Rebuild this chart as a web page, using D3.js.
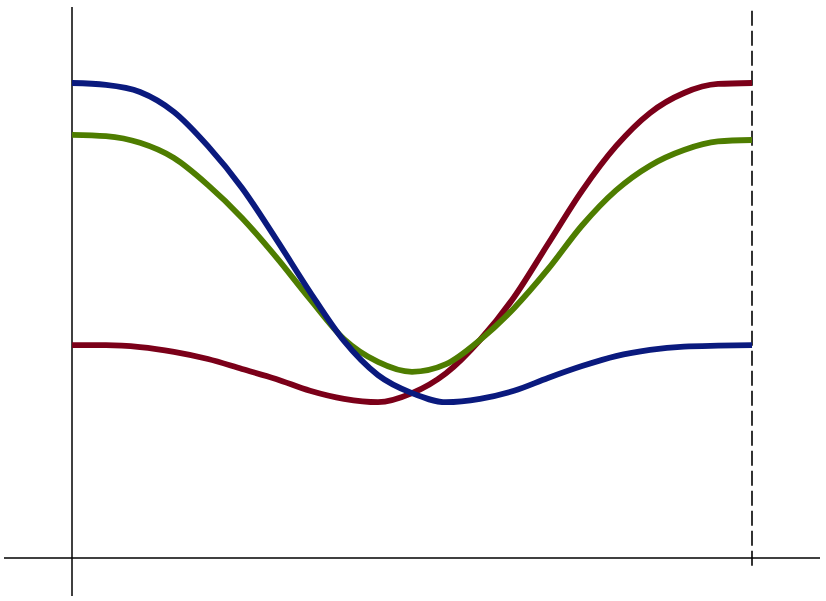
<html>
<head>
  <meta charset="utf-8" />
  <script src="https://cdnjs.cloudflare.com/ajax/libs/d3/7.8.5/d3.min.js"></script>
  <style>
    body { margin: 0; background: #fff; }
    .curve { fill: none; stroke-width: 5.8; stroke-linejoin: round; stroke-linecap: butt; }
  </style>
</head>
<body>
  <svg></svg>
  <script>
    // sample positions along the x axis
    var steps = d3.range(0, 21)

    var blueValues = [1.000, 0.996, 0.981, 0.939, 0.867, 0.779, 0.672, 0.560, 0.457, 0.385, 0.347,
                      0.328, 0.335, 0.352, 0.379, 0.404, 0.425, 0.438, 0.445, 0.447, 0.448]
    var greenValues = [0.891, 0.888, 0.874, 0.842, 0.785, 0.716, 0.634, 0.545, 0.461, 0.413, 0.392,
                       0.408, 0.459, 0.526, 0.608, 0.700, 0.774, 0.826, 0.859, 0.877, 0.880]
    var redValues = [0.448, 0.448, 0.444, 0.434, 0.419, 0.398, 0.377, 0.352, 0.335, 0.328, 0.347,
                     0.389, 0.459, 0.549, 0.661, 0.773, 0.867, 0.937, 0.979, 0.998, 1.000]

    // axis extents and marker position, in data units
    var xAxisExtent = [-2, 22]
    var yAxisExtent = [-0.08, 1.16]
    var markerX = 20
    var markerExtent = [-0.017, 1.152]

    var svg = d3.select("svg").attr("width", 826).attr("height", 601)

    var x = d3.scaleLinear().domain([0, 20]).range([72, 752])
    var y = d3.scaleLinear().domain([0, 1]).range([558, 83])

    // axes
    svg.append("line")
      .attr("x1", x(xAxisExtent[0])).attr("x2", x(xAxisExtent[1]))
      .attr("y1", y(0)).attr("y2", y(0))
      .style("stroke", "#000").style("stroke-width", 1.5)
    svg.append("line")
      .attr("x1", x(0)).attr("x2", x(0))
      .attr("y1", y(yAxisExtent[0])).attr("y2", y(yAxisExtent[1]))
      .style("stroke", "#000").style("stroke-width", 1.5)

    // dashed marker at the right end
    svg.append("line")
      .attr("x1", x(markerX)).attr("x2", x(markerX))
      .attr("y1", y(markerExtent[1])).attr("y2", y(markerExtent[0]))
      .style("stroke", "#000").style("stroke-width", 1.6)
      .style("stroke-dasharray", "15,5")

    var line = d3.line()
      .x(d => x(d[0]))
      .y(d => y(d[1]))
      .curve(d3.curveMonotoneX)

    var series = [
      { values: redValues, color: "#7b0019" },
      { values: greenValues, color: "#4e7d00" },
      { values: blueValues, color: "#0a1a7e" }
    ]

    svg.selectAll(".curve")
      .data(series)
      .enter()
      .append("path")
        .attr("class", "curve")
        .attr("d", s => line(steps.map((t, i) => [t, s.values[i]])))
        .style("stroke", s => s.color)
  </script>
</body>
</html>
